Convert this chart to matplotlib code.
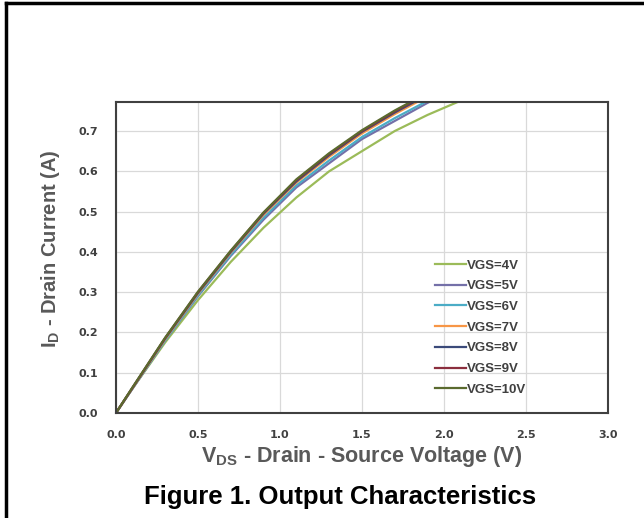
import matplotlib
matplotlib.use("Agg")
from matplotlib import pyplot as plt
from matplotlib.lines import Line2D

plt.rcParams['font.family'] = ['Liberation Sans', 'DejaVu Sans']

# drain-source voltage points (V)
vds = [0.0, 0.1, 0.3, 0.5, 0.7, 0.9, 1.1, 1.3, 1.5, 1.7, 1.9, 2.1, 2.3]

# drain current (A) for each gate voltage
id_4v = [0.0, 0.060, 0.175, 0.280, 0.375, 0.460, 0.535, 0.600, 0.650, 0.700, 0.740, 0.775, 0.810]
id_5v = [0.0, 0.060, 0.180, 0.290, 0.390, 0.480, 0.560, 0.620, 0.680, 0.725, 0.770, 0.810, 0.840]
id_6v = [0.0, 0.060, 0.180, 0.292, 0.393, 0.485, 0.565, 0.627, 0.685, 0.732, 0.775, 0.815, 0.845]
id_7v = [0.0, 0.061, 0.183, 0.296, 0.398, 0.492, 0.572, 0.636, 0.694, 0.742, 0.786, 0.825, 0.855]
id_8v = [0.0, 0.062, 0.185, 0.298, 0.400, 0.495, 0.575, 0.640, 0.698, 0.746, 0.790, 0.830, 0.860]
id_9v = [0.0, 0.062, 0.186, 0.300, 0.402, 0.497, 0.578, 0.643, 0.700, 0.749, 0.793, 0.833, 0.863]
id_10v = [0.0, 0.063, 0.187, 0.301, 0.403, 0.498, 0.580, 0.645, 0.702, 0.751, 0.795, 0.835, 0.865]

labels = ['VGS=4V', 'VGS=5V', 'VGS=6V', 'VGS=7V', 'VGS=8V', 'VGS=9V', 'VGS=10V']
colors = ['#9BBB59', '#7470A8', '#4BACC6', '#F79646', '#3B4A7A', '#8B2E3E', '#5A6A2E']
series = [id_4v, id_5v, id_6v, id_7v, id_8v, id_9v, id_10v]

xticks = [0.0, 0.5, 1.0, 1.5, 2.0, 2.5, 3.0]
yticks = [0.0, 0.1, 0.2, 0.3, 0.4, 0.5, 0.6, 0.7]

fig = plt.figure(figsize=(6.44, 5.18), dpi=100)
ax = fig.add_axes([0.180, 0.2027, 0.764, 0.6003])

for vals, lab, col in zip(series, labels, colors):
    ax.plot(vds, vals, color=col, lw=1.6, label=lab)

ax.set_xlim(0, 3.0)
ax.set_ylim(0, 0.772)
ax.set_xticks(xticks)
ax.set_yticks(yticks)
ax.set_xticklabels([f'{t:.1f}' for t in xticks])
ax.set_yticklabels([f'{t:.1f}' for t in yticks])
ax.tick_params(length=0, labelcolor='#404040')
ax.tick_params(axis='x', pad=12)
ax.tick_params(axis='y', pad=27)
for t in ax.get_xticklabels() + ax.get_yticklabels():
    t.set_fontweight('bold')
    t.set_fontfamily('DejaVu Sans')
    t.set_fontsize(8)
for t in ax.get_yticklabels():
    t.set_horizontalalignment('left')

ax.grid(True, color='#d9d9d9', lw=0.9)
ax.set_axisbelow(True)
for s in ax.spines.values():
    s.set_color('#404040')
    s.set_linewidth(1.5)

ax.set_xlabel('V$_{\\mathregular{DS}}$ - Drain - Source Voltage (V)', fontsize=15.5,
              color='#595959', fontweight='bold')
ax.xaxis.set_label_coords(0.5, -0.1)
ax.set_ylabel('I$_{\\mathregular{D}}$ - Drain Current (A)', fontsize=14.5,
              color='#595959', fontweight='bold')
ax.yaxis.set_label_coords(-0.11, 0.53)

leg = ax.legend(loc='lower left', bbox_to_anchor=(0.625, 0.017), frameon=False,
                fontsize=9.5, handlelength=2.3, handletextpad=0.1, labelspacing=0.64,
                labelcolor='#404040')
for t in leg.get_texts():
    t.set_fontweight('bold')

fig.text(0.528, 0.04, 'Figure 1. Output Characteristics', ha='center', va='center',
         fontsize=18.5, fontweight='bold', color='black')

# outer frame (left and top edges visible)
fig.add_artist(Line2D([0.0095, 0.0095], [-0.01, 0.994], transform=fig.transFigure,
                      color='black', lw=2.5))
fig.add_artist(Line2D([0.0095, 1.01], [0.994, 0.994], transform=fig.transFigure,
                      color='black', lw=2.5))

fig.savefig('out.png', dpi=100)
